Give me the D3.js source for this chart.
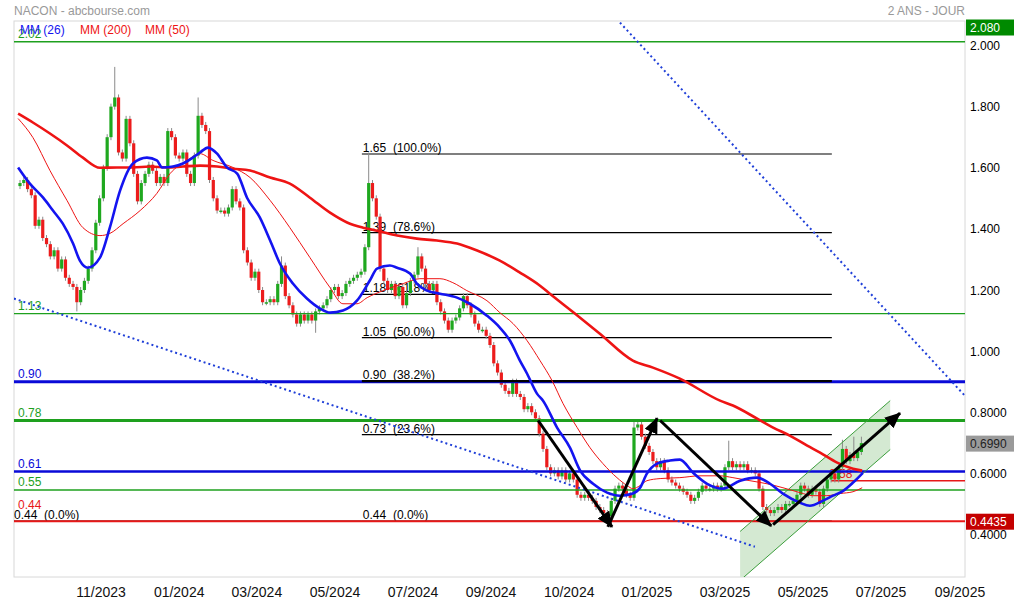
<!DOCTYPE html>
<html><head><meta charset="utf-8">
<script src="https://cdn.jsdelivr.net/npm/d3@7"></script>
<style>
body{margin:0;background:#fff}
svg{display:block}
text{font-family:"Liberation Sans",Arial,sans-serif;font-size:12px}
</style>
</head><body>
<svg id="c" width="1014" height="603"></svg>
<script>
// ---------------- DATA ----------------
const closes = [
 1.55,1.56,1.53,1.51,1.41,1.43,1.37,1.35,1.31,1.33,
 1.27,1.30,1.24,1.22,1.21,1.16,1.20,1.23,1.27,1.33,
 1.42,1.50,1.60,1.70,1.80,1.83,1.65,1.63,1.76,1.68,
 1.58,1.49,1.55,1.58,1.61,1.59,1.55,1.57,1.55,1.72,
 1.70,1.64,1.63,1.65,1.58,1.55,1.64,1.77,1.74,1.72,
 1.56,1.50,1.46,1.46,1.45,1.47,1.53,1.49,1.47,1.33,
 1.29,1.24,1.26,1.20,1.16,1.16,1.17,1.16,1.22,1.28,
 1.18,1.15,1.12,1.09,1.12,1.10,1.12,1.10,1.13,1.14,
 1.15,1.17,1.20,1.21,1.18,1.19,1.22,1.23,1.24,1.25,
 1.26,1.34,1.55,1.50,1.44,1.27,1.23,1.20,1.22,1.18,
 1.21,1.15,1.19,1.23,1.25,1.31,1.27,1.22,1.20,1.22,
 1.16,1.13,1.10,1.07,1.10,1.11,1.14,1.18,1.15,1.12,
 1.09,1.07,1.07,1.05,1.02,0.96,0.93,0.89,0.87,0.86,
 0.90,0.86,0.85,0.81,0.82,0.80,0.78,0.73,0.68,0.62,
 0.60,0.61,0.59,0.61,0.58,0.60,0.58,0.53,0.52,0.53,
 0.52,0.51,0.49,0.48,0.47,0.46,0.51,0.55,0.56,0.55,
 0.53,0.52,0.75,0.76,0.72,0.69,0.67,0.64,0.62,0.64,
 0.61,0.58,0.57,0.56,0.55,0.54,0.53,0.51,0.52,0.54,
 0.56,0.55,0.55,0.56,0.55,0.56,0.62,0.64,0.62,0.63,
 0.62,0.63,0.61,0.61,0.60,0.55,0.49,0.48,0.47,0.48,
 0.49,0.48,0.50,0.50,0.51,0.53,0.56,0.55,0.53,0.55,
 0.54,0.50,0.55,0.58,0.60,0.58,0.62,0.68,0.64,0.66,0.65,0.67,0.699
];
const firstOpen = 1.54;
const wickHighs = [[25,1.93],[47,1.83],[69,1.31],[92,1.65],[105,1.34],[162,0.77],[187,0.707],[217,0.71],[220,0.72],[222,0.72]];
const wickLows  = [[15,1.13],[78,1.06],[155,0.4435]];

const mm26 = [[-0.5,1.601],[2.6,1.548],[6.1,1.502],[8.7,1.460],[11.3,1.417],[14.0,1.352],[15.8,1.296],[17.9,1.273],[21.1,1.306],[23.7,1.404],[26.4,1.525],[29.8,1.614],[33.5,1.633],[36.1,1.624],[37.5,1.601],[40.4,1.604],[43.0,1.614],[45.6,1.633],[47.5,1.650],[49.6,1.666],[52.0,1.646],[54.6,1.601],[57.3,1.581],[59.9,1.502],[63.3,1.437],[66.0,1.362],[68.6,1.286],[72.0,1.221],[75.7,1.172],[79.2,1.139],[81.8,1.126],[85.2,1.133],[88.9,1.165],[92.3,1.231],[94.2,1.270],[97.6,1.280],[99.5,1.273],[102.9,1.254],[104.7,1.221],[107.4,1.198],[110.8,1.188],[115.3,1.175],[118.7,1.155],[123.2,1.116],[126.6,1.077],[129.3,1.034],[131.9,0.969],[133.8,0.926],[136.4,0.861],[138.0,0.838],[141.7,0.750],[145.1,0.684],[147.8,0.609],[151.2,0.566],[154.9,0.537],[158.3,0.527],[161.7,0.534],[163.6,0.553],[165.4,0.599],[168.1,0.632],[171.5,0.642],[174.1,0.645],[177.6,0.602],[181.3,0.566],[185.5,0.550],[190.0,0.576],[194.5,0.586],[197.9,0.566],[201.3,0.534],[205.8,0.504],[208.4,0.494],[211.9,0.511],[214.5,0.527],[217.2,0.543],[219.8,0.570],[222.4,0.602]];
const mm200 = [[-0.5,1.777],[3.4,1.748],[7.9,1.712],[12.4,1.673],[16.6,1.633],[21.1,1.600],[25.6,1.601],[29.8,1.601],[34.3,1.604],[38.8,1.601],[43.0,1.604],[47.5,1.607],[52.0,1.604],[56.2,1.597],[60.7,1.591],[66.0,1.568],[71.2,1.548],[76.5,1.502],[81.8,1.453],[86.3,1.421],[90.5,1.404],[94.2,1.394],[99.5,1.378],[104.7,1.368],[110.0,1.362],[115.3,1.352],[120.6,1.329],[126.6,1.296],[131.9,1.257],[137.2,1.214],[139.8,1.188],[146.4,1.123],[153.0,1.057],[161.7,0.969],[167.0,0.946],[174.1,0.910],[184.7,0.838],[188.1,0.822],[194.5,0.779],[198.7,0.750],[203.2,0.723],[207.7,0.691],[211.1,0.668],[215.6,0.635],[219.8,0.615],[222.2,0.609]];
const mm50 = [[-0.5,1.761],[3.4,1.699],[7.9,1.591],[12.4,1.493],[16.6,1.404],[21.1,1.378],[23.7,1.385],[27.2,1.417],[31.7,1.460],[36.1,1.516],[39.6,1.581],[44.1,1.624],[47.5,1.646],[50.9,1.624],[56.2,1.601],[60.7,1.568],[66.0,1.493],[71.2,1.404],[76.5,1.306],[81.8,1.208],[85.2,1.155],[88.9,1.155],[91.6,1.175],[95.8,1.198],[101.1,1.221],[105.5,1.237],[110.8,1.237],[114.2,1.224],[117.9,1.198],[123.2,1.165],[126.6,1.126],[130.1,1.090],[133.8,1.034],[137.2,0.969],[140.4,0.903],[143.3,0.828],[147.0,0.750],[150.4,0.684],[153.8,0.632],[157.5,0.586],[160.2,0.560],[161.7,0.550],[163.6,0.560],[165.4,0.576],[168.9,0.583],[174.1,0.586],[179.4,0.592],[184.7,0.592],[188.1,0.586],[192.6,0.576],[197.1,0.566],[201.3,0.553],[205.8,0.537],[209.2,0.527],[212.9,0.527],[216.4,0.534],[219.8,0.540],[222.2,0.553]];

const xTickIdx = [21.4,42.0,62.5,83.1,103.7,124.3,144.9,165.4,186.0,206.6,227.2,248.0];
const xTickLabels = ["11/2023","01/2024","03/2024","05/2024","07/2024","09/2024","10/2024","01/2025","03/2025","05/2025","07/2025","09/2025"];
const yTicks = [2.0,1.8,1.6,1.4,1.2,1.0,0.8,0.6,0.4];
const yTickLabels = ["2.000","1.800","1.600","1.400","1.200","1.000","0.8000","0.6000","0.4000"];

const levelValues = [2.012,1.123,0.900,0.773,0.606,0.546,0.4435];
const levelLabels = ["2.02","1.13","0.90","0.78","0.61","0.55","0.44"];
const partialLevel = [0.576];
const partialLevelLabel = ["0.58"];
const partialLevelStart = [214.0];

const fibValues = [1.645,1.388,1.186,1.044,0.902,0.727,0.4435];
const fibLabels = ["1.65  (100.0%)","1.39  (78.6%)","1.18  (61.8%)","1.05  (50.0%)","0.90  (38.2%)","0.73  (23.6%)","0.44  (0.0%)"];
const fibSpan = [90.2,214.2];
const fibLeftLabel = ["0.44  (0.0%)"];

const trendUpper = [[158.3,2.075],[249.3,0.854]];
const trendLower = [[-1.6,1.172],[193.9,0.360]];
const arrows = [
  [[136.7,0.773],[156.2,0.425]],
  [[155.1,0.425],[168.1,0.781]],
  [[168.9,0.773],[198.2,0.428]],
  [[198.7,0.432],[232.2,0.797]]
];
const channelIdx = [190.0,229.6];
const channelUpper = [0.410,0.838];
const channelLower = [0.250,0.678];

const tagValues = [2.080,0.699,0.4435];
const tagLabels = ["2.080","0.6990","0.4435"];

// ---------------- LAYOUT / STYLE ----------------
const L=14,R=965,T=21,B=577;
const svg=d3.select("#c");
const x=d3.scaleLinear().domain([0,222]).range([20,861.4]);
const y=d3.scaleLinear().domain([0.4,2.0]).range([534.5,45.5]);
const GREEN="#1ea01e", BLUE="#0a0ad8", RED="#e81818";
const levelColors=[GREEN,GREEN,BLUE,GREEN,BLUE,GREEN,RED];
const levelWidths=[1.5,1.2,3,3,2.5,1.5,2];

svg.append("defs").append("clipPath").attr("id","clip")
  .append("rect").attr("x",L).attr("y",T).attr("width",R-L).attr("height",B-T);
const mk=svg.select("defs").append("marker").attr("id","ah")
  .attr("markerUnits","userSpaceOnUse").attr("markerWidth",16).attr("markerHeight",14)
  .attr("viewBox","0 0 16 14").attr("refX",15).attr("refY",7).attr("orient","auto");
mk.append("path").attr("d","M0,0 L16,7 L0,14 Z").attr("fill","#000");

// frame
svg.append("rect").attr("x",L).attr("y",T).attr("width",R-L).attr("height",B-T)
  .attr("fill","none").attr("stroke","#d8d8d8").attr("stroke-width",1);

// title
svg.append("text").attr("x",14).attr("y",15).attr("fill","#999").text("NACON - abcbourse.com");
svg.append("text").attr("x",965).attr("y",15).attr("text-anchor","end").attr("fill","#999").text("2 ANS - JOUR");

const g=svg.append("g").attr("clip-path","url(#clip)");

// channel shading
const chPts=[[channelIdx[0],channelUpper[0]],[channelIdx[1],channelUpper[1]],[channelIdx[1],channelLower[1]],[channelIdx[0],channelLower[0]]];
g.append("path").attr("d","M"+chPts.map(p=>x(p[0])+","+y(p[1])).join("L")+"Z")
  .attr("fill","#d4e9d2").attr("stroke","none");

// partial red level + label (under others)
partialLevel.forEach((v,i)=>{
  g.append("line").attr("x1",x(partialLevelStart[i])).attr("x2",R).attr("y1",y(v)).attr("y2",y(v))
    .attr("stroke",RED).attr("stroke-width",1.5);
  g.append("text").attr("x",x(partialLevelStart[i])-2).attr("y",y(v)-3).attr("fill",RED).text(partialLevelLabel[i]);
});

// fib lines
const fibG=g.append("g");
fibValues.forEach((v,i)=>{
  fibG.append("line").attr("x1",x(fibSpan[0])).attr("x2",x(fibSpan[1])).attr("y1",y(v)).attr("y2",y(v))
    .attr("stroke","#000").attr("stroke-width",1.2);
  fibG.append("text").attr("x",x(fibSpan[0])+1).attr("y",y(v)-2).attr("fill","#000")
    .style("white-space","pre").attr("xml:space","preserve").text(fibLabels[i]);
});
fibG.append("line").attr("x1",L).attr("x2",x(fibSpan[0])).attr("y1",y(fibValues[6])).attr("y2",y(fibValues[6])).attr("stroke","#000").attr("stroke-width",1.2);
fibG.append("text").attr("x",L).attr("y",y(fibValues[6])-2).attr("fill","#000")
  .attr("xml:space","preserve").style("white-space","pre").text(fibLeftLabel[0]);

// candles
const candles=closes.map((c,i)=>({i,o:i?closes[i-1]:firstOpen,c}));
const hiMap=new Map(wickHighs), loMap=new Map(wickLows);
const cg=g.append("g");
candles.forEach(d=>{
  const top=Math.max(d.o,d.c), bot=Math.min(d.o,d.c);
  const yt=hiMap.has(d.i)?y(hiMap.get(d.i)):y(top)-3;
  const yb=loMap.has(d.i)?y(loMap.get(d.i)):y(bot)+3;
  cg.append("line").attr("x1",x(d.i)).attr("x2",x(d.i)).attr("y1",yt).attr("y2",yb)
    .attr("stroke","#8a8a8a").attr("stroke-width",1);
  const h=Math.max(1.5,y(bot)-y(top));
  cg.append("rect").attr("x",x(d.i)-1.6).attr("width",3.2).attr("y",y(top)).attr("height",h)
    .attr("fill",d.c>=d.o?"#1fa81f":"#ec1c1c");
});

// level lines
levelValues.forEach((v,i)=>{
  g.append("line").attr("x1",L).attr("x2",R).attr("y1",y(v)).attr("y2",y(v))
    .attr("stroke",levelColors[i]).attr("stroke-width",levelWidths[i]);
  g.append("text").attr("x",18).attr("y",y(v)-(i===6?12:4)).attr("fill",levelColors[i]).text(levelLabels[i]);
});
g.append("line").attr("x1",x(fibSpan[0])).attr("x2",x(fibSpan[1])).attr("y1",y(fibValues[4])).attr("y2",y(fibValues[4]))
  .attr("stroke","#000").attr("stroke-width",2.2);

// channel borders
[channelUpper,channelLower].forEach(c=>{
  g.append("line").attr("x1",x(channelIdx[0])).attr("x2",x(channelIdx[1])).attr("y1",y(c[0])).attr("y2",y(c[1]))
    .attr("stroke","#3c9e3c").attr("stroke-width",1);
});

// moving averages
const line=d3.line().x(d=>x(d[0])).y(d=>y(d[1])).curve(d3.curveMonotoneX);
g.append("path").attr("d",line(mm200)).attr("fill","none").attr("stroke","#ee1414").attr("stroke-width",2.6);
g.append("path").attr("d",line(mm50)).attr("fill","none").attr("stroke","#ee1414").attr("stroke-width",1);
g.append("path").attr("d",line(mm26)).attr("fill","none").attr("stroke","#1414f0").attr("stroke-width",2.6);

// trend lines (dotted)
[trendUpper,trendLower].forEach(t=>{
  g.append("line").attr("x1",x(t[0][0])).attr("y1",y(t[0][1])).attr("x2",x(t[1][0])).attr("y2",y(t[1][1]))
    .attr("stroke","#1f3fd8").attr("stroke-width",2).attr("stroke-dasharray","2,3");
});

// arrows
arrows.forEach(a=>{
  g.append("line").attr("x1",x(a[0][0])).attr("y1",y(a[0][1])).attr("x2",x(a[1][0])).attr("y2",y(a[1][1]))
    .attr("stroke","#000").attr("stroke-width",3).attr("marker-end","url(#ah)");
});

// right axis labels
yTicks.forEach((v,i)=>{
  svg.append("text").attr("x",970).attr("y",y(v)+4.5).attr("fill","#000").text(yTickLabels[i]);
});
const tagFill=["#008a00","#9a9a9a","#c40000"], tagText=["#fff","#222","#fff"];
tagValues.forEach((v,i)=>{
  let cy=Math.max(y(v),T+6);
  svg.append("rect").attr("x",966).attr("y",cy-7.5).attr("width",48).attr("height",16).attr("fill",tagFill[i]);
  svg.append("text").attr("x",970).attr("y",cy+4.5).attr("fill",tagText[i]).text(tagLabels[i]);
});

// x axis labels
xTickIdx.forEach((t,i)=>{
  svg.append("text").attr("x",x(t)).attr("y",597).attr("text-anchor","middle")
    .style("font-family","'Liberation Sans Narrow','Arial Narrow',sans-serif").style("font-size","14px")
    .attr("fill","#111").text(xTickLabels[i]);
});

// legend
svg.append("text").attr("x",20).attr("y",34).attr("fill","#1414f0").text("MM (26)");
svg.append("text").attr("x",80).attr("y",34).attr("fill","#ee1414").text("MM (200)");
svg.append("text").attr("x",145).attr("y",34).attr("fill","#ee1414").text("MM (50)");
</script>
</body></html>
